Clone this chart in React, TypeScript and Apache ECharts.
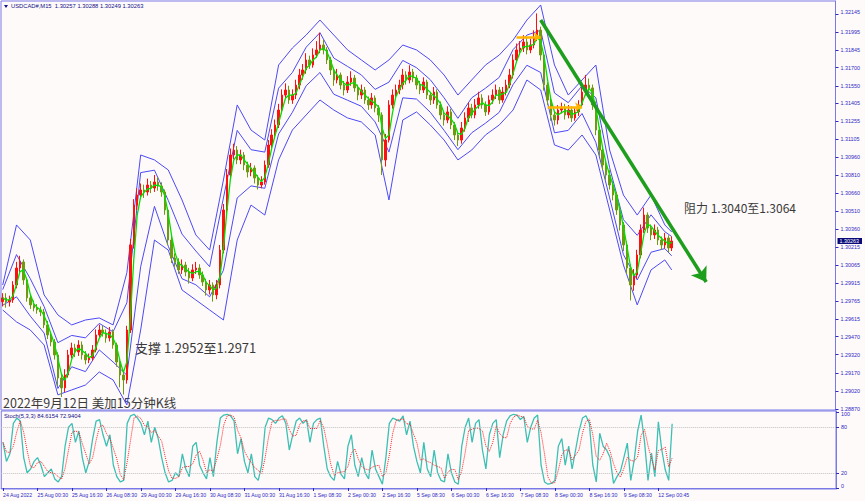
import React, { useEffect, useRef } from "react";
import * as echarts from "echarts";

const FIRST_OPEN = 1.2976;
const closes = [
  1.29791, 1.29757, 1.29774, 1.29898, 1.30039, 1.30089, 1.2994, 1.29791, 1.29733, 1.29708,
  1.29691, 1.29675, 1.29567, 1.29484, 1.29426, 1.29318, 1.29127, 1.29045, 1.29152, 1.29318,
  1.29376, 1.29343, 1.29401, 1.29318, 1.29277, 1.29293, 1.29359, 1.29484, 1.29525, 1.295,
  1.29459, 1.29509, 1.29401, 1.2926, 1.29152, 1.29111, 1.29525, 1.3023, 1.30561, 1.30644,
  1.30686, 1.30669, 1.30727, 1.30702, 1.30752, 1.30719, 1.30669, 1.3052, 1.30271, 1.30122,
  1.30089, 1.30023, 1.30064, 1.30006, 1.29956, 1.30023, 1.30039, 1.29981, 1.29923, 1.29857,
  1.29898, 1.29816, 1.29898, 1.30188, 1.3052, 1.3081, 1.30976, 1.31017, 1.30935, 1.30976,
  1.30893, 1.30835, 1.30868, 1.30785, 1.30727, 1.30752, 1.30893, 1.31059, 1.31142, 1.31225,
  1.31349, 1.31473, 1.31515, 1.31432, 1.31473, 1.31556, 1.31639, 1.31681, 1.31764, 1.31722,
  1.31805, 1.31847, 1.31888, 1.31847, 1.31764, 1.31681, 1.31598, 1.31639, 1.31556, 1.31515,
  1.31581, 1.31614, 1.31532, 1.31473, 1.31515, 1.31432, 1.31391, 1.31449, 1.31366, 1.31308,
  1.30935, 1.311, 1.31391, 1.31473, 1.31515, 1.31556, 1.31639, 1.31598, 1.31664, 1.31614,
  1.31556, 1.31515, 1.31581, 1.31473, 1.31432, 1.31498, 1.31391, 1.31308, 1.31266, 1.31333,
  1.31225, 1.31142, 1.311, 1.312, 1.31283, 1.31366, 1.31308, 1.31391, 1.31449, 1.31391,
  1.31333, 1.31432, 1.31473, 1.31515, 1.31432, 1.31498, 1.31556, 1.31639, 1.31764, 1.31847,
  1.31863, 1.31913, 1.31847, 1.31888, 1.31946, 1.32012, 1.31805, 1.31556, 1.31432, 1.31308,
  1.31266, 1.31349, 1.31366, 1.31308, 1.31349, 1.31283, 1.31333, 1.31391, 1.31498, 1.31556,
  1.31532, 1.31391, 1.31183, 1.31017, 1.30893, 1.3081, 1.30727, 1.30644, 1.3052, 1.30396,
  1.3023, 1.30039, 1.29898, 1.29981, 1.30147, 1.30354, 1.30478, 1.30371, 1.30313, 1.30354,
  1.30271, 1.3023, 1.30288, 1.30205, 1.30263,
];
const highs = [
  1.2983, 1.2983, 1.2981, 1.2993, 1.3009, 1.3014, 1.3011, 1.2996, 1.2982, 1.2977,
  1.2974, 1.2972, 1.297, 1.296, 1.2951, 1.2945, 1.2934, 1.2916, 1.292, 1.2936,
  1.2942, 1.2941, 1.2944, 1.2943, 1.2935, 1.2933, 1.294, 1.2953, 1.2957, 1.2956,
  1.2953, 1.2955, 1.2953, 1.2942, 1.2929, 1.2918, 1.2956, 1.3028, 1.3061, 1.307,
  1.3074, 1.3073, 1.3078, 1.3076, 1.3081, 1.3079, 1.3075, 1.3069, 1.3054, 1.303,
  1.3016, 1.3012, 1.3011, 1.3009, 1.3004, 1.3007, 1.3009, 1.3007, 1.3001, 1.2995,
  1.2994, 1.2992, 1.2994, 1.3023, 1.3057, 1.3086, 1.3103, 1.3107, 1.3105, 1.3102,
  1.31, 1.3092, 1.3091, 1.3089, 1.3081, 1.308, 1.3093, 1.311, 1.3119, 1.3127,
  1.314, 1.3152, 1.3157, 1.3155, 1.3152, 1.316, 1.3169, 1.3173, 1.3182, 1.318,
  1.3186, 1.3192, 1.3199, 1.3193, 1.3187, 1.3179, 1.317, 1.3169, 1.3166, 1.3159,
  1.3163, 1.3167, 1.3164, 1.3156, 1.3156, 1.3154, 1.3146, 1.3149, 1.3147, 1.3139,
  1.3133, 1.3115, 1.3143, 1.3152, 1.3156, 1.316, 1.3169, 1.3167, 1.3172, 1.3169,
  1.3164, 1.3159, 1.3162, 1.316, 1.315, 1.3154, 1.3152, 1.3142, 1.3134, 1.3138,
  1.3136, 1.3125, 1.3117, 1.3125, 1.3133, 1.3141, 1.314, 1.3144, 1.315, 1.3148,
  1.3142, 1.3147, 1.3152, 1.3156, 1.3154, 1.3154, 1.316, 1.3169, 1.3181, 1.319,
  1.3192, 1.3197, 1.3195, 1.3194, 1.3201, 1.3215, 1.3204, 1.3183, 1.3158, 1.3146,
  1.3134, 1.3139, 1.3141, 1.314, 1.3139, 1.3138, 1.3137, 1.3143, 1.3154, 1.3164,
  1.3161, 1.3156, 1.3142, 1.3121, 1.3105, 1.3093, 1.3085, 1.3076, 1.3067, 1.3055,
  1.3042, 1.3026, 1.3007, 1.3003, 1.3019, 1.304, 1.3054, 1.305, 1.304, 1.304,
  1.3038, 1.303, 1.3033, 1.3031, 1.303,
];
const lows = [
  1.2972, 1.2971, 1.2972, 1.2975, 1.2987, 1.3, 1.299, 1.2976, 1.297, 1.2968,
  1.2966, 1.2964, 1.2954, 1.2945, 1.2939, 1.2928, 1.2906, 1.2897, 1.2901, 1.2913,
  1.2929, 1.293, 1.2931, 1.2928, 1.2924, 1.2925, 1.2927, 1.2934, 1.2946, 1.2947,
  1.2942, 1.2943, 1.2937, 1.2922, 1.2905, 1.2899, 1.2908, 1.295, 1.302, 1.3052,
  1.3061, 1.3062, 1.3064, 1.3066, 1.3067, 1.3068, 1.3063, 1.3048, 1.3023, 1.3008,
  1.3005, 1.2999, 1.2999, 1.2997, 1.2991, 1.2993, 1.2999, 1.2995, 1.2989, 1.2981,
  1.2982, 1.2976, 1.2978, 1.2987, 1.3016, 1.3049, 1.3078, 1.3094, 1.309, 1.309,
  1.3085, 1.3079, 1.308, 1.3074, 1.3069, 1.307, 1.3073, 1.3087, 1.3103, 1.3111,
  1.312, 1.3132, 1.3144, 1.314, 1.314, 1.3144, 1.3152, 1.316, 1.3165, 1.3169,
  1.317, 1.3178, 1.3182, 1.3181, 1.3173, 1.3164, 1.3155, 1.3157, 1.3152, 1.3147,
  1.3149, 1.3155, 1.315, 1.3143, 1.3144, 1.314, 1.3135, 1.3136, 1.3133, 1.3125,
  1.3081, 1.3088, 1.3108, 1.3136, 1.3144, 1.3148, 1.3152, 1.3156, 1.3157, 1.3158,
  1.3152, 1.3148, 1.3149, 1.3144, 1.3139, 1.314, 1.3136, 1.3127, 1.3122, 1.3124,
  1.3119, 1.311, 1.3105, 1.3107, 1.3117, 1.3125, 1.3128, 1.3128, 1.3136, 1.3136,
  1.313, 1.3131, 1.314, 1.3144, 1.314, 1.3141, 1.3147, 1.3153, 1.3161, 1.3174,
  1.3181, 1.3183, 1.3181, 1.3182, 1.3186, 1.3192, 1.3176, 1.3151, 1.3139, 1.3126,
  1.3122, 1.3123, 1.3132, 1.3127, 1.3128, 1.3125, 1.3126, 1.313, 1.3137, 1.3147,
  1.3149, 1.3135, 1.3114, 1.3097, 1.3085, 1.3077, 1.3069, 1.306, 1.3048, 1.3035,
  1.3018, 1.2999, 1.2977, 1.2985, 1.2995, 1.3012, 1.3033, 1.3033, 1.3027, 1.3028,
  1.3023, 1.3019, 1.302, 1.3017, 1.3018,
];
// Band lines read every BAND_STEP bars (last value = last bar)
const BAND_STEP = 4;
const upperBand = [
  1.29898, 1.30396, 1.30271, 1.29816, 1.2965, 1.29567, 1.29608, 1.29625, 1.29567, 1.3,
  1.30976, 1.30935, 1.30852, 1.30603, 1.30313, 1.30188, 1.30769, 1.31391, 1.31183, 1.311,
  1.31722, 1.31863, 1.31971, 1.32095, 1.31971, 1.31847, 1.31764, 1.31681, 1.31764, 1.31888,
  1.31847, 1.31764, 1.31639, 1.31473, 1.31598, 1.31722, 1.31805, 1.31929, 1.32095, 1.3222,
  1.31722, 1.31473, 1.31598, 1.31722, 1.31017, 1.30644, 1.30478, 1.30644, 1.30396, 1.30338,
];
const innerUpper = [
  1.2986, 1.3015, 1.2995, 1.2972, 1.2942, 1.2948, 1.2946, 1.2958, 1.2951, 1.2975,
  1.3083, 1.3085, 1.306, 1.3032, 1.3018, 1.3005, 1.3062, 1.3118, 1.3102, 1.31,
  1.3153, 1.3166, 1.3187, 1.3199, 1.3178, 1.3171, 1.3164, 1.3152, 1.3158, 1.3176,
  1.317, 1.316, 1.3145, 1.3128, 1.3145, 1.3153, 1.3162, 1.3185, 1.3197, 1.3201,
  1.3149, 1.3141, 1.3155, 1.3145, 1.3087, 1.3044, 1.3031, 1.3048, 1.3034, 1.303,
];
const innerLower = [
  1.2973, 1.298, 1.2964, 1.295, 1.2904, 1.2922, 1.2918, 1.2936, 1.2926, 1.2915,
  1.3005, 1.3055, 1.3022, 1.2995, 1.299, 1.298, 1.3002, 1.3062, 1.3072, 1.307,
  1.3115, 1.3133, 1.3155, 1.3166, 1.3148, 1.3143, 1.3138, 1.3125, 1.31, 1.3145,
  1.3144, 1.3133, 1.3118, 1.3102, 1.3116, 1.3124, 1.3133, 1.3156, 1.3172, 1.3166,
  1.3116, 1.3118, 1.3132, 1.3108, 1.3062, 1.3015, 1.2994, 1.3017, 1.302, 1.3014,
];
const lowerBand = [
  1.29691, 1.29592, 1.29525, 1.29401, 1.28987, 1.29028, 1.29069, 1.29177, 1.29111, 1.28904,
  1.29525, 1.30271, 1.30188, 1.29857, 1.29774, 1.29691, 1.29608, 1.30271, 1.30561, 1.30478,
  1.30935, 1.31183, 1.31308, 1.31432, 1.31349, 1.31283, 1.3125, 1.31142, 1.30603, 1.31266,
  1.31333, 1.31225, 1.311, 1.30935, 1.31017, 1.31142, 1.31225, 1.31349, 1.31598, 1.31515,
  1.31059, 1.31017, 1.31142, 1.30976, 1.3052, 1.30064, 1.29733, 1.30023, 1.30106, 1.30023,
];
const stochMain = [
  60, 35, 45, 85, 92, 88, 40, 20, 25, 35,
  40, 30, 15, 20, 25, 12, 8, 15, 55, 80,
  85, 60, 75, 40, 20, 35, 65, 88, 90, 70,
  55, 70, 30, 15, 8, 10, 85, 95, 97, 92,
  85, 70, 88, 60, 80, 65, 40, 20, 8, 10,
  20, 15, 45, 25, 15, 55, 60, 30, 20, 12,
  40, 15, 60, 92, 96, 97, 95, 88, 45, 65,
  35, 20, 45, 15, 10, 30, 80, 92, 90, 85,
  92, 95, 85, 50, 70, 88, 92, 85, 90, 60,
  85, 90, 92, 55, 25, 15, 10, 35, 18, 12,
  55, 70, 30, 15, 40, 20, 12, 50, 25, 15,
  5, 40, 85, 92, 90, 88, 95, 70, 88, 55,
  35, 20, 60, 25, 15, 50, 20, 10, 8, 45,
  20, 8, 5, 55, 80, 92, 60, 85, 90, 50,
  25, 70, 85, 90, 40, 70, 88, 95, 97, 96,
  90, 94, 60, 80, 92, 96, 30, 8, 5, 6,
  10, 55, 65, 30, 55, 25, 50, 75, 92, 95,
  85, 30, 8, 72, 55, 50, 40, 6, 15, 22,
  40, 59, 10, 37, 75, 96, 60, 10, 46, 15,
  87, 50, 24, 10, 84.6154,
];
const timeLabels = [
  "24 Aug 2022", "25 Aug 00:30", "25 Aug 16:30", "26 Aug 08:30", "29 Aug 00:30",
  "29 Aug 16:30", "30 Aug 08:30", "31 Aug 00:30", "31 Aug 16:30", "1 Sep 08:30",
  "2 Sep 00:30", "2 Sep 16:30", "5 Sep 08:30", "6 Sep 00:30", "6 Sep 16:30",
  "7 Sep 08:30", "8 Sep 00:30", "8 Sep 16:30", "9 Sep 08:30", "12 Sep 00:45",
];
const priceTicks = [
  1.32145, 1.31995, 1.31845, 1.317, 1.3155, 1.31405, 1.31255, 1.31105, 1.3096, 1.3081,
  1.3066, 1.3051, 1.3036, 1.30215, 1.30065, 1.29915, 1.29765, 1.29615, 1.2947, 1.2932,
  1.2917, 1.2902, 1.2887,
];
const stochTicks = [0, 20, 80, 100];
const stochLevels = [20, 80];
const LAST_PRICE = 1.30263;
const TITLE = "USDCAD#,M15  1.30257 1.30288 1.30249 1.30263";
const STOCH_TITLE = "Stoch(5,3,3) 84.6154 72.9404";
const TOTAL_SLOTS = 242;
const LABEL_EVERY = 10;

const PRICE_MIN = 1.288617;
const PRICE_MAX = 1.322528;

const FRAME = "#7a7ae6";
const AXIS_TEXT = "#2b2bc4";
const BAND = "#4a4af5";
const SMALL_FONT = "Liberation Sans";

function sma(arr: number[], n: number) {
  return arr.map((_, i) => {
    const s = Math.max(0, i - n + 1);
    const seg = arr.slice(s, i + 1);
    return +(seg.reduce((a, b) => a + b, 0) / seg.length).toFixed(5);
  });
}

export default function App() {
  const ref = useRef<HTMLDivElement>(null);
  useEffect(() => {
    document.body.style.margin = "0";
    const chart = echarts.init(ref.current!, null, { renderer: "svg" });
    const slots = Array.from({ length: TOTAL_SLOTS }, (_, i) => String(i));
    const opens = closes.map((c, i) => (i === 0 ? FIRST_OPEN : closes[i - 1]));
    const candles = closes.map((c, i) => [opens[i], c, lows[i], highs[i]]);
    const ma = sma(closes, 3);
    const bandSeries = (vals: number[]) => {
      const out: (number | null)[] = new Array(closes.length).fill(null);
      vals.forEach((v, k) => {
        out[Math.min(k * BAND_STEP, closes.length - 1)] = v;
      });
      return out;
    };
    const bandLine = (vals: number[]) => ({
      type: "line", xAxisIndex: 0, yAxisIndex: 0, data: bandSeries(vals), connectNulls: true,
      showSymbol: false, symbol: "none", lineStyle: { color: BAND, width: 1 }, z: 2, silent: true,
    });
    const stochSignal = sma(stochMain, 3);
    const isLabel = (idx: number) => idx % LABEL_EVERY === 0 && idx / LABEL_EVERY < timeLabels.length;

    chart.setOption({
      animation: false,
      backgroundColor: "#fffafa",
      grid: [
        { left: 1, right: 29, top: 1, height: 409, show: true, borderColor: FRAME, borderWidth: 1, backgroundColor: "transparent" },
        { left: 1, right: 29, top: 411, height: 78, show: true, borderColor: FRAME, borderWidth: 1, backgroundColor: "transparent" },
      ],
      xAxis: [
        { type: "category", gridIndex: 0, data: slots, boundaryGap: true, axisLine: { show: false }, axisTick: { show: false }, axisLabel: { show: false }, splitLine: { show: false } },
        {
          type: "category", gridIndex: 1, data: slots, boundaryGap: true,
          axisLine: { show: true, lineStyle: { color: FRAME } },
          axisTick: { show: true, interval: (i: number) => isLabel(i), length: 3, lineStyle: { color: AXIS_TEXT }, alignWithLabel: true },
          axisLabel: {
            show: true, interval: (i: number) => isLabel(i), formatter: (_v: string, i: number) => timeLabels[i / LABEL_EVERY] || "",
            fontSize: 5.2, fontFamily: SMALL_FONT, color: AXIS_TEXT, align: "left", margin: 3, hideOverlap: false,
          },
          splitLine: { show: false },
        },
      ],
      yAxis: [
        {
          type: "value", gridIndex: 0, position: "right", min: PRICE_MIN, max: PRICE_MAX, scale: true,
          axisLine: { show: true, lineStyle: { color: FRAME } },
          axisTick: { show: true, length: 3, customValues: priceTicks, lineStyle: { color: AXIS_TEXT } },
          axisLabel: {
            show: true, customValues: priceTicks, formatter: (v: number) => v.toFixed(5), fontSize: 5.4, fontFamily: SMALL_FONT,
            color: AXIS_TEXT, margin: 5, lineHeight: 5, verticalAlignMinLabel: "bottom",
          },
          splitLine: { show: false },
        },
        {
          type: "value", gridIndex: 0, position: "right", min: PRICE_MIN, max: PRICE_MAX, scale: true,
          axisLine: { show: false }, axisTick: { show: false },
          axisLabel: { show: true, customValues: [LAST_PRICE], formatter: (v: number) => v.toFixed(5), fontSize: 5.4, fontFamily: SMALL_FONT, color: "#ffffff", backgroundColor: "#0a0a78", padding: [0, 3, 0, 2], lineHeight: 6, margin: 2 },
          splitLine: { show: false },
        },
        {
          type: "value", gridIndex: 1, position: "right", min: -1.3, max: 101.3,
          axisLine: { show: true, lineStyle: { color: FRAME } },
          axisTick: { show: true, length: 3, customValues: stochTicks, lineStyle: { color: AXIS_TEXT } },
          axisLabel: {
            show: true, customValues: stochTicks, fontSize: 5.4, fontFamily: SMALL_FONT, color: AXIS_TEXT, margin: 5,
            lineHeight: 5, verticalAlignMaxLabel: "top", verticalAlignMinLabel: "bottom",
          },
          splitLine: { show: false },
        },
      ],
      series: [
        bandLine(upperBand),
        bandLine(innerUpper),
        bandLine(innerLower),
        bandLine(lowerBand),
        {
          type: "candlestick", xAxisIndex: 0, yAxisIndex: 0, data: candles, barWidth: 2,
          itemStyle: { color: "#ff1010", color0: "#6f9a10", borderColor: "#ff1010", borderColor0: "#6f9a10", borderWidth: 1 },
          z: 3,
          markLine: {
            silent: true, animation: false, label: { show: false },
            data: [
              [
                { coord: [155.7, 1.32095], symbol: "none", lineStyle: { color: "#1d9e1d", width: 3.5, type: "solid" } },
                { coord: [204.4, 1.29923], symbol: "arrow", symbolSize: 14 },
              ],
              [
                { coord: [148.8, 1.31954], symbol: "none", lineStyle: { color: "#ffb400", width: 2.5, type: "solid" } },
                { coord: [155.7, 1.31954], symbol: "arrow", symbolSize: 7 },
              ],
              [
                { coord: [158.1, 1.31374], symbol: "none", lineStyle: { color: "#ffb400", width: 2.5, type: "solid" } },
                { coord: [168.3, 1.31374], symbol: "arrow", symbolSize: 7 },
              ],
            ],
          },
        },
        {
          type: "line", xAxisIndex: 0, yAxisIndex: 0, data: ma, showSymbol: false, symbol: "none",
          lineStyle: { color: "#00e000", width: 1.3 }, z: 4,
        },
        {
          type: "line", xAxisIndex: 1, yAxisIndex: 2, data: stochMain, showSymbol: false, symbol: "none",
          lineStyle: { color: "#3cc0b4", width: 1.3 }, z: 3,
          markLine: {
            silent: true, symbol: "none", label: { show: false },
            lineStyle: { color: "#c0c0c0", type: "dotted", width: 1 },
            data: stochLevels.map((v) => ({ yAxis: v })),
          },
        },
        {
          type: "line", xAxisIndex: 1, yAxisIndex: 2, data: stochSignal, showSymbol: false, symbol: "none",
          lineStyle: { color: "#ff2020", width: 1, type: "dotted" }, z: 4,
        },
      ],
      graphic: [
        { type: "polygon", shape: { points: [[4, 5], [8, 5], [6, 8]] }, style: { fill: "#10108a" } },
        { type: "text", left: 11, top: 3, style: { text: TITLE, fontSize: 5.8, fontFamily: SMALL_FONT, fill: "#10108a" } },
        { type: "text", left: 4, top: 413, style: { text: STOCH_TITLE, fontSize: 5.8, fontFamily: SMALL_FONT, fill: "#10108a" } },
        { type: "text", left: 3, top: 396, style: { text: "2022年9月12日 美加15分钟K线", fontSize: 12.5, fontFamily: "Noto Sans CJK SC", fill: "#3a3a3a" } },
        { type: "text", left: 135, top: 341, style: { text: "支撑 1.2952至1.2971", fontSize: 13, fontFamily: "Noto Sans CJK SC", fill: "#3a3a3a" } },
        { type: "text", left: 684, top: 201, style: { text: "阻力 1.3040至1.3064", fontSize: 12, fontFamily: "Noto Sans CJK SC", fill: "#3a3a3a" } },
      ],
    });
    return () => chart.dispose();
  }, []);
  return <div ref={ref} style={{ position: "fixed", left: 0, top: 0, width: 865, height: 501, background: "#fffafa" }} />;
}
